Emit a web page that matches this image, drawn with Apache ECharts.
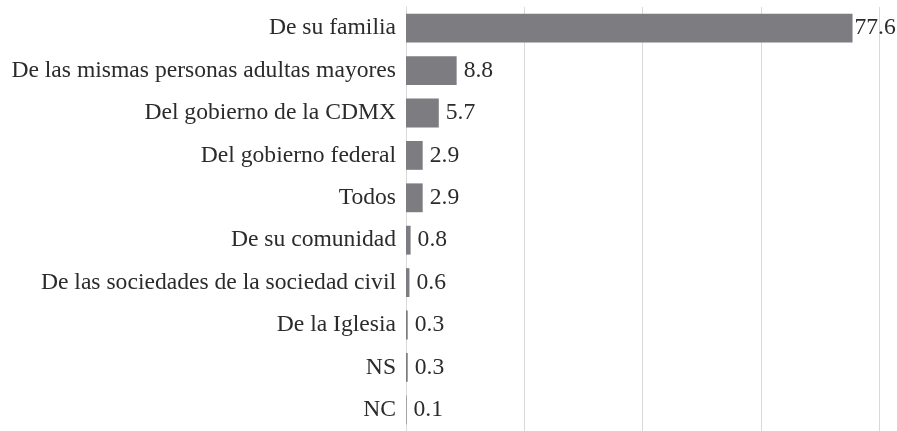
<!DOCTYPE html>
<html><head><meta charset="utf-8">
<script src="https://cdn.jsdelivr.net/npm/echarts@6/dist/echarts.min.js"></script>
<style>html,body{margin:0;padding:0;background:#fff}#c{width:897px;height:431px}</style>
</head><body><div id="c"></div>
<script>
const categories = ["De su familia","De las mismas personas adultas mayores","Del gobierno de la CDMX","Del gobierno federal","Todos","De su comunidad","De las sociedades de la sociedad civil","De la Iglesia","NS","NC"];
const values = [77.6, 8.8, 5.7, 2.9, 2.9, 0.8, 0.6, 0.3, 0.3, 0.1];

const chart = echarts.init(document.getElementById('c'));
const FONT = 'Liberation Serif';
const FS = 23.6;
chart.setOption({
  animation: false,
  textStyle: {fontFamily: FONT, fontSize: FS},
  grid: {left: 406, right: 18, top: 7, bottom: -3, containLabel: false},
  xAxis: {
    type: 'value', min: 0, max: 82.2, interval: 20.55,
    axisLabel: {show: false}, axisLine: {show: false}, axisTick: {show: false},
    splitLine: {show: true, lineStyle: {color: '#d9d9d9', width: 1}}
  },
  yAxis: {
    type: 'category', data: categories, inverse: true,
    axisLine: {show: true, lineStyle: {color: '#d9d9d9', width: 1}},
    axisTick: {show: false},
    axisLabel: {fontFamily: FONT, fontSize: FS, color: '#2b2b2b', margin: 10}
  },
  series: [{
    type: 'bar',
    data: values.map((v, i) => i === 0 ? {value: v, label: {distance: 2}} : v),
    barCategoryGap: '32%',
    itemStyle: {color: '#7d7d81'},
    label: {show: true, position: 'right', distance: 7, fontFamily: FONT, fontSize: FS, color: '#2b2b2b',
      formatter: p => p.value.toFixed(1)}
  }]
});
</script></body></html>
